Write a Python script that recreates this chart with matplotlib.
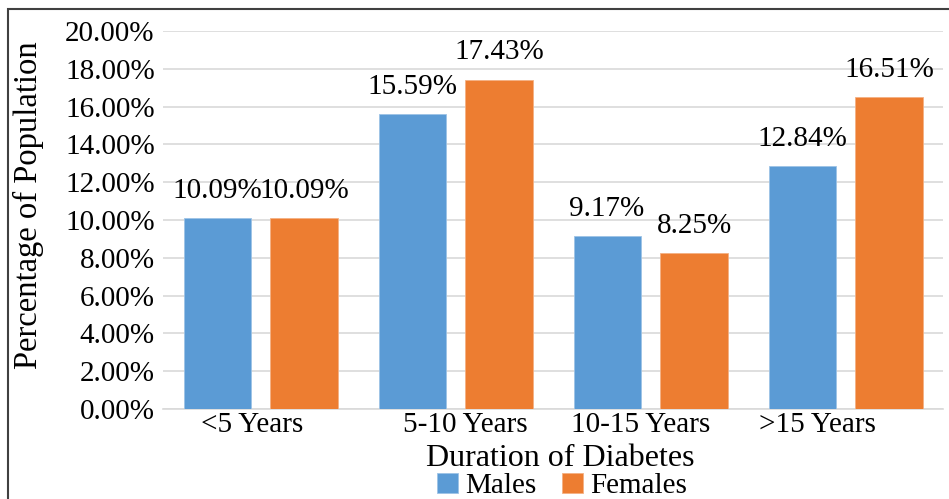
import numpy as np
import matplotlib.pyplot as plt
import matplotlib.transforms as mtransforms
from matplotlib.patches import Rectangle

plt.rcParams['font.family'] = ['Liberation Serif', 'DejaVu Serif']

durations = ['<5 Years', '5-10 Years', '10-15 Years', '>15 Years']
males = [10.09, 15.59, 9.17, 12.84]
females = [10.09, 17.43, 8.25, 16.51]

BLUE = '#5B9BD5'
ORANGE = '#ED7D31'
FS = 21

fig = plt.figure(figsize=(9.49, 4.99), dpi=100)
ax = fig.add_axes([0.1718, 0.1804, 0.8219, 0.7575])

x = np.arange(len(durations))
width = 0.344
offset = 0.223

b1 = ax.bar(x - offset, males, width, color=BLUE, edgecolor='#9DC3E6', linewidth=0.6, label='Males', zorder=3)
b2 = ax.bar(x + offset, females, width, color=ORANGE, edgecolor='#F4B183', linewidth=0.6, label='Females', zorder=3)

# value labels above each bar
for bars, vals in ((b1, males), (b2, females)):
    for rect, v in zip(bars, vals):
        ax.annotate(f'{v:.2f}%', (rect.get_x() + rect.get_width() / 2, v),
                    xytext=(0, 19.5), textcoords='offset points',
                    ha='center', va='center', fontsize=FS)

ax.set_xlim(-0.5, len(durations) - 0.5)
ax.set_ylim(0, 20)
ax.set_yticks(np.arange(0, 20.1, 2))
ax.set_yticklabels([f'{t:.2f}%' for t in np.arange(0, 20.1, 2)], fontsize=FS)
ax.set_xticks(x)
ax.set_xticklabels(durations, fontsize=FS)
ax.tick_params(axis='both', length=0)
ax.tick_params(axis='y', pad=6)
ax.tick_params(axis='x', pad=2)

# nudge category labels sideways the way they sit in the original layout
shifts = [-8, 10, -10, -28]
for lab, dx in zip(ax.get_xticklabels(), shifts):
    lab.set_transform(lab.get_transform() + mtransforms.Affine2D().translate(dx, 0))

ax.grid(axis='y', color='#D9D9D9', linewidth=1.2, zorder=0)
for s in ('top', 'right', 'left'):
    ax.spines[s].set_visible(False)
ax.spines['bottom'].set_color('#D9D9D9')
ax.spines['bottom'].set_linewidth(1.2)

ax.set_ylabel('Percentage of Population', fontsize=FS + 2.5)
ax.yaxis.set_label_coords(-0.152, 0.54)
fig.text(560 / 949, 1 - 459 / 499, 'Duration of Diabetes', ha='center', va='center', fontsize=FS + 2)

fig.legend(handles=[b1, b2], loc='center', bbox_to_anchor=(562 / 949, 1 - 486 / 499),
           ncol=2, frameon=False, fontsize=FS, handlelength=0.7, handleheight=0.7,
           handletextpad=0.25, columnspacing=0.9, borderpad=0)

# outer frame
fig.patches.append(Rectangle((8 / 949, -0.1), 1.2, 1 - 9 / 499 + 0.1, transform=fig.transFigure,
                             fill=False, edgecolor='#404040', linewidth=1.5))

fig.savefig('out.png', dpi=100)
